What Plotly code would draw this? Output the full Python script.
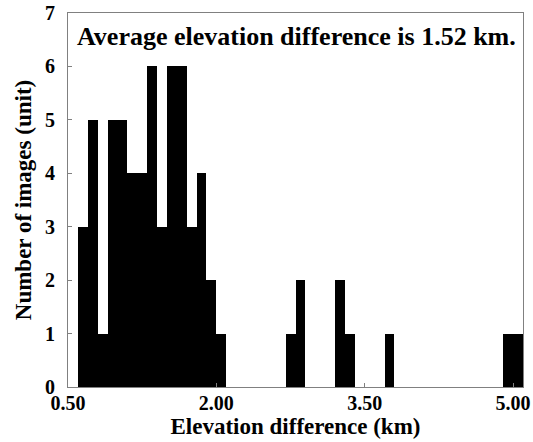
import plotly.graph_objects as go

bin_starts = [0.6, 0.7, 0.8, 0.9, 1.0, 1.1, 1.2, 1.3, 1.4, 1.5, 1.6, 1.7, 1.8, 1.9, 2.0,
              2.7, 2.8, 3.2, 3.3, 3.7, 4.9, 5.0]
counts = [3, 5, 1, 5, 5, 4, 4, 6, 3, 6, 6, 3, 4, 2, 1,
          1, 2, 2, 1, 1, 1, 1]
bin_width = 0.1
x_ticks = [0.5, 2.0, 3.5, 5.0]
x_ticklabels = ["0.50", "2.00", "3.50", "5.00"]
y_ticks = [0, 1, 2, 3, 4, 5, 6, 7]

FONT = "Liberation Serif"

fig = go.Figure()
fig.add_trace(go.Bar(
    x=bin_starts, y=counts, width=[bin_width] * len(bin_starts), offset=0,
    marker=dict(color="black", line=dict(width=0)),
))

axis_common = dict(
    showline=True, linecolor="#808080", linewidth=1, mirror=True,
    ticks="inside", ticklen=4, tickcolor="#808080", tickwidth=1,
    showgrid=False, zeroline=False, automargin=False,
    tickfont=dict(family=FONT, size=20, color="black", weight="bold"),
    title_font=dict(family=FONT, size=23, color="black", weight="bold"),
)

fig.update_xaxes(range=[0.5, 5.1], tickvals=x_ticks, ticktext=x_ticklabels,
                 title_text="Elevation difference (km)", title_standoff=1,
                 ticklabelstandoff=-2, **axis_common)
fig.update_yaxes(range=[0, 7], tickvals=y_ticks,
                 title_text="Number of images (unit)", title_standoff=6,
                 ticklabelstandoff=8, **axis_common)

fig.add_annotation(
    text="Average elevation difference is 1.52 km.",
    xref="paper", yref="paper", x=0.503, y=0.936,
    xanchor="center", yanchor="middle", showarrow=False,
    font=dict(family=FONT, size=26, color="black", weight="bold"),
)

fig.update_layout(
    width=533, height=442,
    margin=dict(l=68, r=10, t=13, b=55),
    plot_bgcolor="white", paper_bgcolor="white",
    showlegend=False, bargap=0,
)

fig.write_html("out.html")
